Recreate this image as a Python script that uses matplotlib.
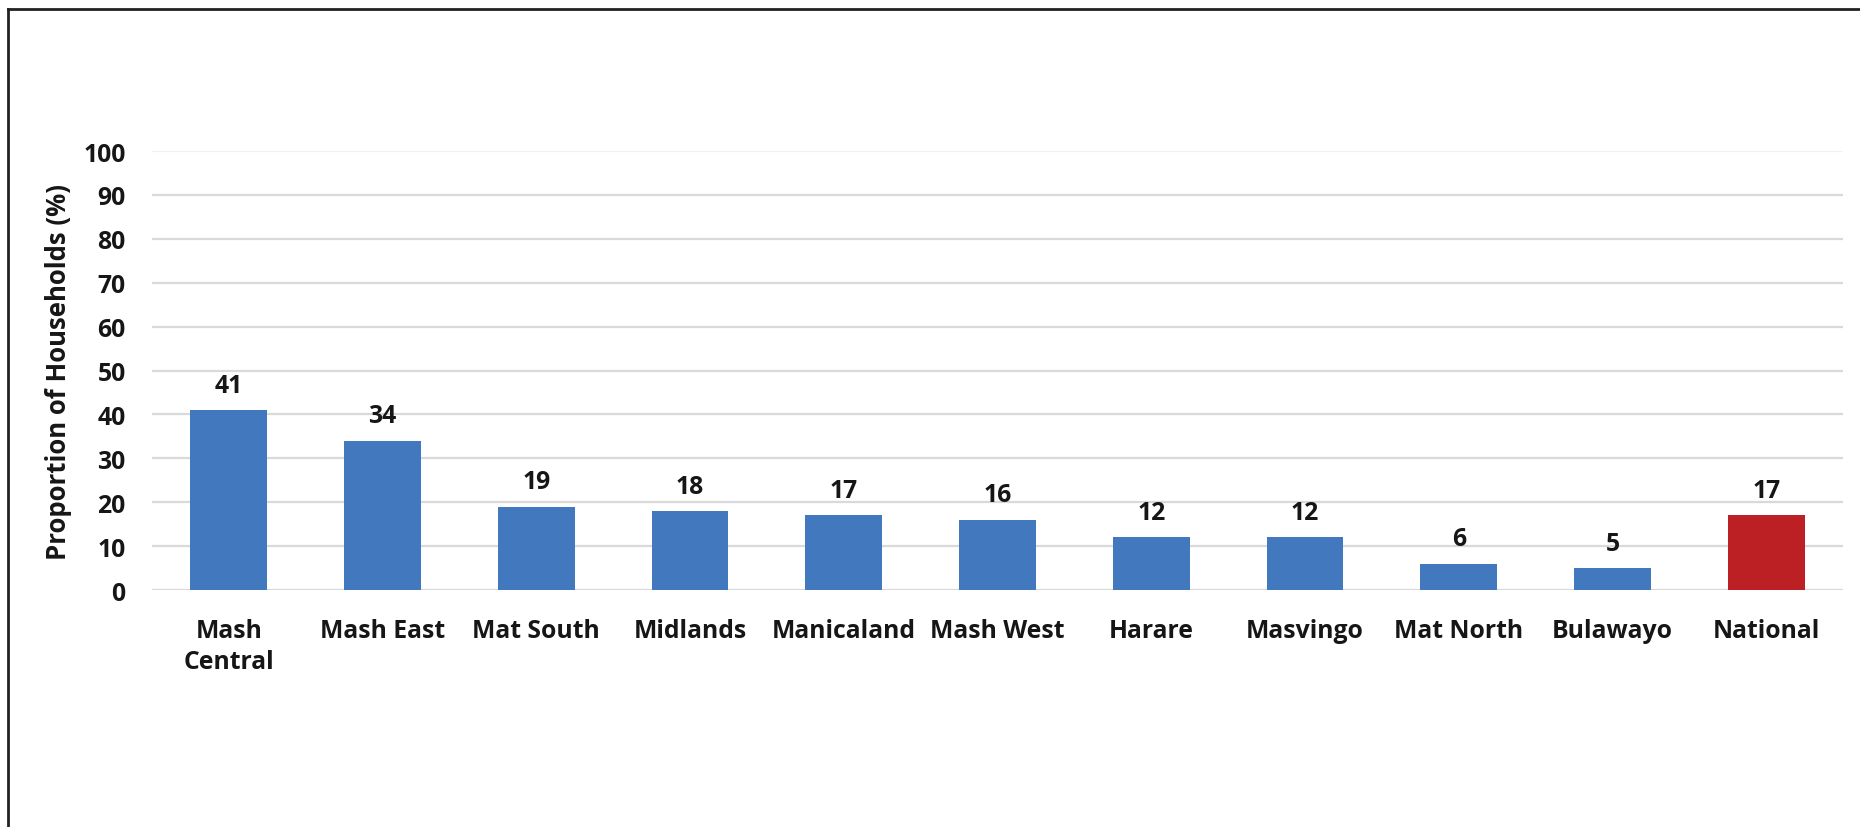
import matplotlib.pyplot as plt
from matplotlib.lines import Line2D

regions = ["Mash\nCentral", "Mash East", "Mat South", "Midlands", "Manicaland",
           "Mash West", "Harare", "Masvingo", "Mat North", "Bulawayo", "National"]
values = [41, 34, 19, 18, 17, 16, 12, 12, 6, 5, 17]
y_ticks = [0, 10, 20, 30, 40, 50, 60, 70, 80, 90, 100]

blue = "#4279BE"
red = "#BC1F24"
colors = [blue] * (len(regions) - 1) + [red]

plt.rcParams["font.family"] = ["Open Sans", "DejaVu Sans"]
plt.rcParams["font.weight"] = "bold"

fig = plt.figure(figsize=(18.6, 8.28), dpi=100)
ax = fig.add_axes([0.0817, 0.2862, 0.9092, 0.5302])

x = range(len(regions))
bars = ax.bar(x, values, width=0.5, color=colors, zorder=3)

text_color = "#161616"
fs = 17.8
for xi, v in zip(x, values):
    ax.annotate(f"{v}", (xi, v), xytext=(0, 9), textcoords="offset points",
                ha="center", va="bottom", fontsize=fs, fontweight="bold",
                color=text_color)

ax.set_xlim(-0.5, len(regions) - 0.5)
ax.set_ylim(0, 100)
ax.set_yticks(y_ticks)
ax.set_yticklabels([str(t) for t in y_ticks], fontsize=fs, fontweight="bold",
                   color=text_color)
ax.set_xticks(list(x))
ax.set_xticklabels(regions, fontsize=fs, fontweight="bold", color=text_color,
                   linespacing=1.3)
ax.tick_params(axis="both", length=0)
ax.tick_params(axis="x", pad=20)
ax.tick_params(axis="y", pad=19)

ax.yaxis.grid(True, color="#D9D9D9", linewidth=1.6, zorder=0)
ax.set_axisbelow(True)
for s in ax.spines.values():
    s.set_visible(False)
ax.get_ygridlines()[-1].set_color("#F2F2F2")

ax.set_ylabel("Proportion of Households (%)", fontsize=18.5, fontweight="bold",
              color=text_color, labelpad=8)

# page frame: top and left rules
fig.add_artist(Line2D([8 / 1860, 1.0], [1 - 10 / 828, 1 - 10 / 828],
                      transform=fig.transFigure, color="#222222", linewidth=2))
fig.add_artist(Line2D([8 / 1860, 8 / 1860], [0.0, 1 - 10 / 828],
                      transform=fig.transFigure, color="#222222", linewidth=2))

fig.savefig("out.png", dpi=100, facecolor="white")
